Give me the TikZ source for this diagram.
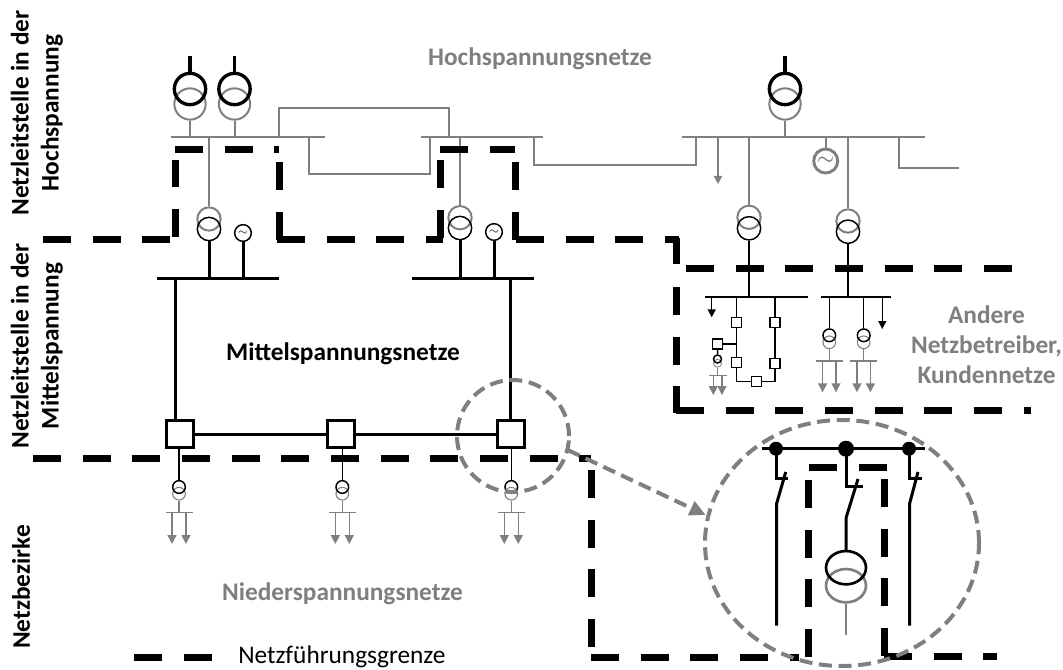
\documentclass[tikz,border=0pt]{standalone}
\usepackage{fontspec}
\setmainfont{Carlito}
\usetikzlibrary{arrows.meta,shapes,positioning}
\definecolor{mygray}{RGB}{127,127,127}
\tikzset{
  txtlabel/.style={font=\fontsize{19}{22.5}\selectfont\bfseries,align=center,inner sep=0pt},
  grayline/.style={mygray,line width=1.5pt},
  blackline/.style={black,line width=2.25pt},
  thinline/.style={black,line width=1.1pt},
  grenze/.style={black,line width=5.25pt,dash pattern=on 21pt off 16.25pt},
  lupe/.style={mygray,line width=3pt,dash pattern=on 9.75pt off 5pt},
  trafo/.style={circle,draw,inner sep=0pt,minimum size=#1},
  genbig/.style={circle,draw=mygray,text=mygray,line width=2.2pt,inner sep=0pt,minimum size=18pt,font=\Large\boldmath},
  gensmall/.style={circle,draw=black,fill=white,line width=1.1pt,inner sep=0pt,minimum size=12.5pt,font=\small},
  schalter/.style={draw=black,fill=white,rectangle,inner sep=0pt},
  pfeil/.style={-{Triangle[length=6.75pt,width=6.75pt]}},
  pfeilklein/.style={-{Triangle[length=6pt,width=6pt]}},
  punkt/.style={circle,fill=black,inner sep=0pt,minimum size=#1},
}
\begin{document}
\begin{tikzpicture}[x=0.75pt,y=-0.75pt]
\useasboundingbox (0,0) rectangle (1063,670);
% busbars
\coordinate (hb1l) at (171,136.7); \coordinate (hb1r) at (325,136.7);
\coordinate (hb2l) at (421,136.7); \coordinate (hb2r) at (543,136.7);
\coordinate (hb3l) at (682,136.7); \coordinate (hb3r) at (925,136.7);
\coordinate (mb1l) at (157,278.3); \coordinate (mb1r) at (279,278.3);
\coordinate (mb2l) at (412,278.3); \coordinate (mb2r) at (534,278.3);
\coordinate (mb3l) at (705,297); \coordinate (mb3r) at (808,297);
\coordinate (mb4l) at (821,297); \coordinate (mb4r) at (891,297);
\draw[grayline] (hb1l) -- (hb1r);
\draw[grayline] (hb2l) -- (hb2r);
\draw[grayline] (hb3l) -- (hb3r);
\draw[blackline] (mb1l) -- (mb1r);
\draw[blackline] (mb2l) -- (mb2r);
\draw[thinline] (mb3l) -- (mb3r);
\draw[thinline] (mb4l) -- (mb4r);
% HV transformers
\foreach \n/\x in {ta/190,tb/234.5,tc/785}{
  \node[trafo=23.5pt,grayline] (\n g) at (\x,104) {};
  \node[trafo=23.5pt,black,line width=2.5pt] (\n s) at (\x,89) {};
  \coordinate (\n t) at (\x,56);
  \draw[black,line width=2.5pt] (\n t) -- (\n s.north);
}
\draw[grayline] (tag.south) -- (tag.south |- hb1l);
\draw[grayline] (tbg.south) -- (tbg.south |- hb1l);
\draw[grayline] (tcg.south) -- (tcg.south |- hb3l);
% HV ring and stubs
\coordinate (ra) at (279,136.7); \coordinate (rb) at (449,136.7);
\draw[grayline] (ra) -- (279,107.7) -- (449,107.7) -- (rb);
\coordinate (rc) at (309,136.7); \coordinate (rd) at (430,136.7);
\draw[grayline] (rc) -- (309,174) -- (430,174) -- (rd);
\coordinate (re) at (534,136.7); \coordinate (rf) at (696,136.7);
\draw[grayline] (re) -- (534,165) -- (696,165) -- (rf);
\coordinate (rg) at (899,136.7); \coordinate (rh) at (959,168.3);
\draw[grayline] (rg) |- (rh);
\coordinate (ri) at (718,136.7); \coordinate (rj) at (718,184);
\draw[grayline,pfeilklein] (ri) -- (rj);
\node[genbig] (gc) at (825.7,161) {$\sim$};
\draw[grayline] (gc.north) -- (gc.north |- hb3l);
% MV transformers
\foreach \n/\x/\yg/\ys in {td/209/219/229,te/460/217.7/228,tf/749/217.3/228.3,tg/848/221/231.7}{
  \node[trafo=17.5pt,grayline] (\n g) at (\x,\yg) {};
  \node[trafo=17.5pt,thinline] (\n s) at (\x,\ys) {};
}
\draw[grayline] (tdg.north) -- (tdg.north |- hb1l);
\draw[grayline] (teg.north) -- (teg.north |- hb2l);
\draw[grayline] (tfg.north) -- (tfg.north |- hb3l);
\draw[grayline] (tgg.north) -- (tgg.north |- hb3l);
\draw[blackline] (tds.south) -- (tds.south |- mb1l);
\draw[blackline] (tes.south) -- (tes.south |- mb2l);
\draw[thinline] (tfs.south) -- (tfs.south |- mb3l);
\draw[thinline] (tgs.south) -- (tgs.south |- mb4l);
\node[gensmall] (ga) at (243,233) {$\sim$};
\node[gensmall] (gb) at (494,232) {$\sim$};
\draw[blackline] (ga.south) -- (ga.south |- mb1l);
\draw[blackline] (gb.south) -- (gb.south |- mb2l);
% MV ring
\node[schalter,line width=2.25pt,minimum size=20.5pt] (sa) at (180,434.3) {};
\node[schalter,line width=2.25pt,minimum size=20.5pt] (sb) at (340.7,434.3) {};
\node[schalter,line width=2.25pt,minimum size=20.5pt] (sc) at (511,434.3) {};
\coordinate (va) at (175,278.3); \coordinate (vb) at (510,278.3);
\draw[blackline] (va) -- (va |- sa.north);
\draw[blackline] (vb) -- (vb |- sc.north);
\draw[blackline] (sa) -- (sb);
\draw[blackline] (sb) -- (sc);
% LV feeders
\foreach \n/\x in {la/179,lb/342.3,lc/511.3}{
  \node[trafo=9.5pt,mygray,line width=0.8pt] (\n g) at (\x,493.7) {};
  \node[trafo=9.5pt,thinline] (\n s) at (\x,487) {};
  \coordinate (\n b) at (\x,512.7);
  \coordinate (\n l) at (\x-13.5,512.7); \coordinate (\n r) at (\x+13.5,512.7);
  \coordinate (\n p) at (\x-7,512.7); \coordinate (\n q) at (\x+7,512.7);
  \coordinate (\n u) at (\x-7,544); \coordinate (\n v) at (\x+7,544);
  \draw[grayline,line width=1pt] (\n g.south) -- (\n b);
  \draw[grayline,line width=1pt] (\n l) -- (\n r);
  \draw[grayline,pfeil,line width=1.1pt] (\n p) -- (\n u);
  \draw[grayline,pfeil,line width=1.1pt] (\n q) -- (\n v);
}
\draw[thinline] (las.north) -- (las.north |- sa.south);
\draw[thinline] (lbs.north) -- (lbs.north |- sb.south);
\draw[thinline] (lcs.north) -- (lcs.north |- sc.south);
% customer net left
\node[thinline,schalter,minimum size=7.5pt] (ka) at (736.7,322.7) {};
\node[thinline,schalter,minimum size=7.5pt] (kb) at (775,322.7) {};
\node[thinline,schalter,minimum size=7.5pt] (kc) at (736.7,362.7) {};
\node[thinline,schalter,minimum size=7.5pt] (kd) at (775,363.3) {};
\node[thinline,schalter,minimum size=7.5pt] (ke) at (756.3,381.7) {};
\node[thinline,schalter,minimum size=7.5pt] (kf) at (717.7,344) {};
\draw[thinline] (ka.north) -- (ka.north |- mb3l);
\draw[thinline] (kb.north) -- (kb.north |- mb3l);
\draw[thinline] (ka) -- (kc);
\draw[thinline] (kb) -- (kd);
\draw[thinline] (kc) |- (ke);
\draw[thinline] (kd) |- (ke);
\draw[thinline] (kf) -- (kf -| ka);
\coordinate (ma) at (711.7,297); \coordinate (mc) at (711.7,317.3);
\draw[thinline,pfeilklein] (ma) -- (mc);
\node[trafo=6pt,mygray,line width=0.6pt] (kgg) at (717.5,363.3) {};
\node[trafo=6pt,thinline] (kgs) at (717.5,359) {};
\draw[thinline] (kf.south) -- (kgs.north);
\coordinate (kbm) at (717.5,375.7); \coordinate (kbl) at (709,375.7); \coordinate (kbr) at (726.7,375.7);
\coordinate (kp) at (713.3,375.7); \coordinate (kq) at (722,375.7);
\coordinate (ku) at (713.3,395); \coordinate (kv) at (722,395);
\draw[grayline,line width=0.8pt] (kgg.south) -- (kbm);
\draw[grayline,line width=0.8pt] (kbl) -- (kbr);
\draw[grayline,line width=0.8pt,pfeil] (kp) -- (ku);
\draw[grayline,line width=0.8pt,pfeil] (kq) -- (kv);
% customer net right
\foreach \n/\x in {ca/829.3,cb/863.7}{
  \node[trafo=9.5pt,mygray,line width=0.8pt] (\n g) at (\x,342.3) {};
  \node[trafo=9.5pt,thinline] (\n s) at (\x,335.3) {};
  \coordinate (\n o) at (\x,297);
  \coordinate (\n b) at (\x,361);
  \coordinate (\n l) at (\x-13.5,361); \coordinate (\n r) at (\x+13.5,361);
  \coordinate (\n p) at (\x-6.7,361); \coordinate (\n q) at (\x+6.7,361);
  \coordinate (\n u) at (\x-6.7,392.3); \coordinate (\n v) at (\x+6.7,392.3);
  \draw[thinline] (\n o) -- (\n s.north);
  \draw[grayline,line width=1pt] (\n g.south) -- (\n b);
  \draw[grayline,line width=1pt] (\n l) -- (\n r);
  \draw[grayline,pfeil,line width=1.1pt] (\n p) -- (\n u);
  \draw[grayline,pfeil,line width=1.1pt] (\n q) -- (\n v);
}
\coordinate (cc) at (882.3,297); \coordinate (cd) at (882.3,329);
\draw[thinline,pfeilklein] (cc) -- (cd);
% inset
\coordinate (ibl) at (762,448.7); \coordinate (ibr) at (925,448.7);
\draw[blackline] (ibl) -- (ibr);
\node[punkt=10.5pt] (pa) at (776,448.7) {};
\node[punkt=12pt] (pb) at (846,448.7) {};
\node[punkt=10.5pt] (pc) at (909,448.7) {};
\draw[blackline] (pa.center) -- (776,478) -- (788,478);
\draw[blackline] (785.7,472) -- (776.5,504) -- (776.5,625.7);
\draw[blackline] (pb.center) -- (846,486.7) -- (863,486.7);
\draw[blackline] (858,479) -- (846,518) -- (846,551.7);
\draw[blackline] (pc.center) -- (909,478) -- (921.7,478);
\draw[blackline] (918,472) -- (909.5,504) -- (909.5,625.7);
\node[ellipse,draw=mygray,line width=2pt,inner sep=0pt,minimum width=30pt,minimum height=25pt] (ig) at (846,585.7) {};
\node[ellipse,draw=black,line width=2pt,inner sep=0pt,minimum width=30pt,minimum height=25pt] (is) at (846,567.7) {};
\coordinate (iu) at (846,635);
\draw[grayline,line width=2pt] (ig.south) -- (iu);
% Netzfuehrungsgrenze
\draw[grenze] (43,240) -- (170,240);
\draw[grenze] (175,237) -- (175,160);
\draw[grenze] (175,150) -- (279,150);
\draw[grenze] (279,162) -- (279,240);
\draw[grenze] (277,240) -- (443,240);
\draw[grenze] (440,238) -- (440,160);
\draw[grenze] (440,150) -- (515,150);
\draw[grenze] (515.7,162) -- (515.7,240);
\draw[grenze] (516,240) -- (679,240);
\draw[grenze] (676,238) -- (676,264);
\draw[grenze] (686,268.7) -- (1012,268.7);
\draw[grenze] (676,287) -- (676,413);
\draw[grenze] (676,410.7) -- (1031,410.7);
\draw[grenze] (33,458) -- (591,458);
\draw[grenze] (591,470) -- (591,647);
\draw[grenze] (591,657) -- (799,657);
\draw[grenze] (808,657) -- (808,479);
\draw[grenze] (809,467.7) -- (887,467.7);
\draw[grenze] (884,479) -- (884,657);
\draw[grenze] (884,656.7) -- (997,656.7);
\draw[grenze] (134,657.3) -- (212,657.3);
% Lupe
\node[circle,draw,lupe,inner sep=0pt,minimum size=84pt] (lk) at (513,436) {};
\node[ellipse,draw,lupe,inner sep=0pt,minimum width=205.5pt,minimum height=184.5pt] (lg) at (842,543) {};
\coordinate (lpa) at (567.7,450); \coordinate (lpb) at (705.7,515);
\draw[lupe,-{Triangle[length=12pt,width=11pt]}] (lpa) -- (lpb);
% texts
\node[txtlabel,mygray] (hs) at (540,59) {Hochspannungsnetze};
\node[txtlabel] (ms) at (343,354) {Mittelspannungsnetze};
\node[txtlabel,mygray] (ns) at (342.5,594) {Niederspannungsnetze};
\node[txtlabel,mygray] (an) at (986.5,345) {Andere\\Netzbetreiber,\\Kundennetze};
\node[txtlabel,rotate=90] (nh) at (37,113) {Netzleitstelle in der\\Hochspannung};
\node[txtlabel,rotate=90] (nm) at (37,346) {Netzleitstelle in der\\Mittelspannung};
\node[txtlabel,rotate=90] (nb) at (21,587) {Netzbezirke};
\node[font=\fontsize{19}{22}\selectfont,anchor=base west,inner sep=0pt] (lg1) at (238,663.5) {Netzführungsgrenze};
\end{tikzpicture}
\end{document}
